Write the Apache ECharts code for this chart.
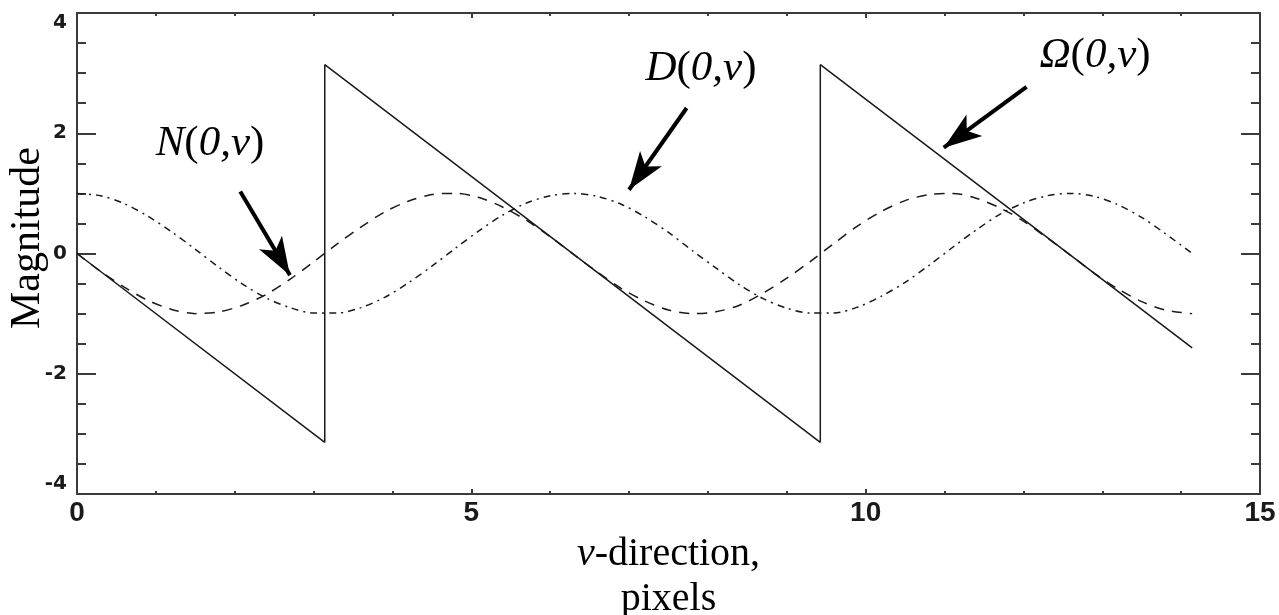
<!DOCTYPE html>
<html>
<head>
<meta charset="utf-8">
<style>
  html, body { margin: 0; padding: 0; background: #fff; }
  #chart { width: 1279px; height: 615px; }
</style>
<script src="https://cdn.jsdelivr.net/npm/echarts@6/dist/echarts.min.js"></script>
</head>
<body>
<div id="chart"></div>
<script>
// Sample positions along the v-direction (pixels)
const vSamples = [0.0, 0.3, 0.6, 0.9, 1.2, 1.5, 1.8, 2.1, 2.4, 2.7, 3.0, 3.3, 3.6, 3.9, 4.2, 4.5,
  4.8, 5.1, 5.4, 5.7, 6.0, 6.3, 6.6, 6.9, 7.2, 7.5, 7.8, 8.1, 8.4, 8.7, 9.0, 9.3, 9.6, 9.9,
  10.2, 10.5, 10.8, 11.1, 11.4, 11.7, 12.0, 12.3, 12.6, 12.9, 13.2, 13.5, 13.8, 14.14];

// D(0,v) – dash-dot curve
const dValues = [1.00, 0.96, 0.83, 0.62, 0.36, 0.07, -0.23, -0.51, -0.74, -0.90, -0.99, -0.99,
  -0.90, -0.73, -0.49, -0.21, 0.09, 0.38, 0.64, 0.84, 0.96, 1.00, 0.95, 0.82, 0.61, 0.35,
  0.05, -0.24, -0.52, -0.75, -0.91, -0.99, -0.99, -0.89, -0.71, -0.48, -0.20, 0.10, 0.39,
  0.65, 0.84, 0.96, 1.00, 0.95, 0.81, 0.60, 0.33, 0.00];

// N(0,v) – dashed curve
const nValues = [0.00, -0.30, -0.56, -0.78, -0.93, -1.00, -0.97, -0.86, -0.68, -0.43, -0.14, 0.16,
  0.44, 0.69, 0.87, 0.98, 1.00, 0.93, 0.77, 0.55, 0.28, -0.02, -0.31, -0.58, -0.79, -0.94,
  -1.00, -0.97, -0.86, -0.66, -0.41, -0.13, 0.17, 0.46, 0.70, 0.88, 0.98, 1.00, 0.92, 0.76,
  0.54, 0.26, -0.03, -0.33, -0.59, -0.80, -0.94, -1.00];

// Ω(0,v) – wrapped phase (sawtooth) break points
const omegaV = [0.0, 3.1416, 3.1416, 9.4248, 9.4248, 14.14];
const omegaValues = [0.0, -3.14, 3.14, -3.14, 3.14, -1.57];

// Axis tick settings
const xTicks = { min: 0, max: 15, interval: 5 };
const yTicks = { min: -4, max: 4, interval: 2 };

// Annotation arrows: [tail, tip] in data coordinates
const arrowN = [[2.07, 1.03], [2.70, -0.36]];
const arrowD = [[7.73, 2.42], [7.00, 1.06]];
const arrowOmega = [[12.04, 2.77], [10.99, 1.76]];

const pair = (xs, ys) => xs.map((x, i) => [x, ys[i]]);

const axisColor = '#3a3a3a';
const lineColor = '#1a1a1a';
const xTickFont = {
  fontFamily: '"Liberation Sans", Arial, sans-serif',
  fontWeight: 'bold',
  fontSize: 28,
  color: '#1a1a1a'
};
const yTickFont = {
  fontFamily: '"DejaVu Sans", sans-serif',
  fontWeight: 'bold',
  fontSize: 20,
  color: '#1a1a1a'
};
const serif = '"Liberation Serif", "Times New Roman", serif';

function xAxisDef(pos, showLabel) {
  return {
    type: 'value', position: pos, min: xTicks.min, max: xTicks.max, interval: xTicks.interval,
    axisLine: { show: true, onZero: false, lineStyle: { color: axisColor, width: 2 } },
    axisTick: { show: true, inside: true, length: 5, lineStyle: { color: axisColor, width: 2 } },
    minorTick: { show: true, splitNumber: 5, length: 3, lineStyle: { color: axisColor, width: 2 } },
    splitLine: { show: false },
    axisLabel: Object.assign({ show: showLabel, margin: 5 }, xTickFont)
  };
}
function yAxisDef(pos, showLabel) {
  return {
    type: 'value', position: pos, min: yTicks.min, max: yTicks.max, interval: yTicks.interval,
    axisLine: { show: true, onZero: false, lineStyle: { color: axisColor, width: 2 } },
    axisTick: { show: true, inside: true, length: 19, lineStyle: { color: axisColor, width: 2 } },
    minorTick: { show: true, splitNumber: 4, length: 9, lineStyle: { color: axisColor, width: 2 } },
    splitLine: { show: false },
    axisLabel: Object.assign({
      show: showLabel, margin: 10,
      verticalAlignMaxLabel: 'top', verticalAlignMinLabel: 'bottom'
    }, yTickFont)
  };
}

const arrowStyle = { color: '#000', width: 4, type: 'solid' };
function arrowData(a) {
  return [{ coord: a[0] }, { coord: a[1] }];
}

const chart = echarts.init(document.getElementById('chart'), null, { renderer: 'canvas' });

const labelRich = {
  i: { fontFamily: serif, fontStyle: 'italic', fontSize: 43, color: '#000' },
  r: { fontFamily: serif, fontSize: 43, color: '#000' }
};

chart.setOption({
  animation: false,
  backgroundColor: '#fff',
  grid: {
    left: 77, right: 19, top: 13, bottom: 121,
    containLabel: false, outerBoundsMode: 'none'
  },
  xAxis: [
    Object.assign(xAxisDef('bottom', true), {
      name: '{i|v}-direction,\n{r|pixels}',
      nameLocation: 'middle',
      nameGap: 29,
      nameTextStyle: {
        fontFamily: serif, fontSize: 40, color: '#000', lineHeight: 45,
        rich: {
          i: { fontFamily: serif, fontStyle: 'italic', fontSize: 40, lineHeight: 45, color: '#000' },
          r: { fontFamily: serif, fontSize: 40, lineHeight: 45, color: '#000' }
        }
      }
    }),
    xAxisDef('top', false)
  ],
  yAxis: [yAxisDef('left', true), yAxisDef('right', false)],
  graphic: [
    {
      type: 'text', x: 28, y: 238, rotation: Math.PI / 2,
      style: { text: 'Magnitude', font: '42px ' + serif, fill: '#000', align: 'center', verticalAlign: 'middle' }
    },
    {
      type: 'text', x: 210, y: 144,
      style: { text: '{i|N}{r|(}{i|0,v}{r|)}', rich: labelRich, align: 'center', verticalAlign: 'middle' }
    },
    {
      type: 'text', x: 701, y: 69,
      style: { text: '{i|D}{r|(}{i|0,v}{r|)}', rich: labelRich, align: 'center', verticalAlign: 'middle' }
    },
    {
      type: 'text', x: 1095, y: 56,
      style: { text: '{i|Ω}{r|(}{i|0,v}{r|)}', rich: labelRich, align: 'center', verticalAlign: 'middle' }
    }
  ],
  series: [
    {
      name: 'D(0,v)', type: 'line', xAxisIndex: 0, yAxisIndex: 0,
      data: pair(vSamples, dValues), smooth: 0.3, showSymbol: false,
      lineStyle: { color: lineColor, width: 1.5, type: [7, 5, 2, 5] }
    },
    {
      name: 'N(0,v)', type: 'line', xAxisIndex: 0, yAxisIndex: 0,
      data: pair(vSamples, nValues), smooth: 0.3, showSymbol: false,
      lineStyle: { color: lineColor, width: 1.5, type: [10, 8] }
    },
    {
      name: 'Ω(0,v)', type: 'line', xAxisIndex: 0, yAxisIndex: 0,
      data: pair(omegaV, omegaValues), showSymbol: false,
      lineStyle: { color: lineColor, width: 1.5, type: 'solid' },
      markLine: {
        silent: true, animation: false,
        symbol: ['none', 'arrow'], symbolSize: [20, 38],
        lineStyle: arrowStyle,
        label: { show: false },
        emphasis: { disabled: true },
        data: [arrowData(arrowN), arrowData(arrowD), arrowData(arrowOmega)]
      }
    }
  ]
});
</script>
</body>
</html>
